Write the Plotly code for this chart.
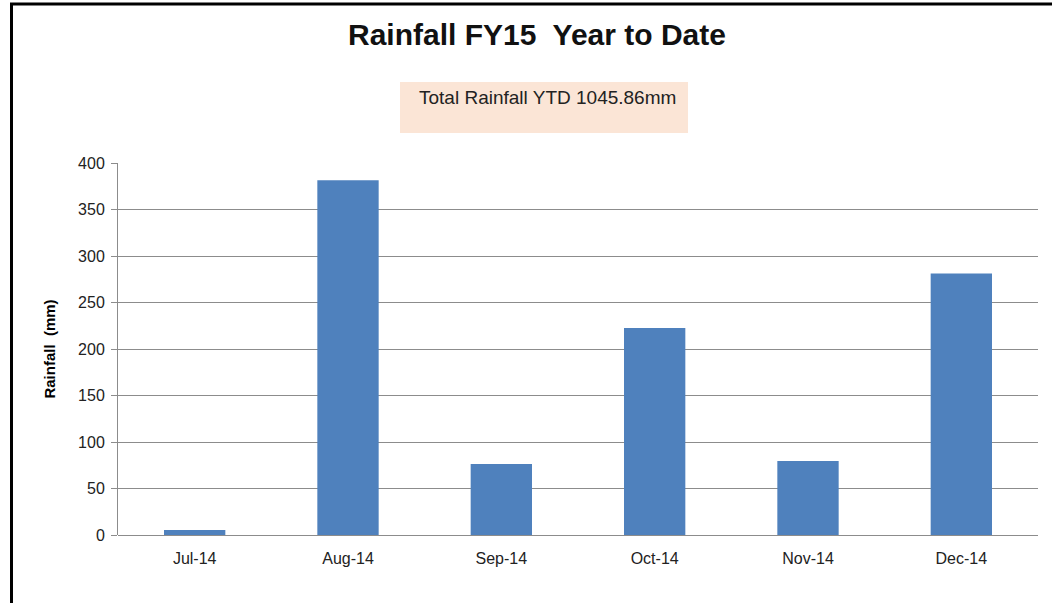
import plotly.graph_objects as go

months = ["Jul-14", "Aug-14", "Sep-14", "Oct-14", "Nov-14", "Dec-14"]
rainfall = [5.4, 381.4, 76.3, 222.7, 79.5, 281.1]
y_ticks = [0, 50, 100, 150, 200, 250, 300, 350, 400]
title_text = "Rainfall FY15  Year to Date"
total_text = "Total Rainfall YTD 1045.86mm"
y_title = "Rainfall  (mm)"

W, H = 1052, 603
L, R, T, B = 118, 14, 163, 68
pw, ph = W - L - R, H - T - B

def px(x):
    return (x - L) / pw

def py(y):
    return (H - B - y) / ph

font = "Liberation Sans"

fig = go.Figure(go.Bar(
    x=months, y=rainfall,
    marker=dict(color="#4F81BD", line=dict(width=0)),
    width=0.4,
))

fig.update_layout(
    width=W, height=H,
    margin=dict(l=L, r=R, t=T, b=B),
    paper_bgcolor="white", plot_bgcolor="white",
    showlegend=False,
    font=dict(family=font, color="#222222"),
    xaxis=dict(
        showgrid=False, showline=False, zeroline=False,
        tickfont=dict(size=16, family=font, color="#222222"),
        ticks="", ticklen=0, ticklabelstandoff=12,
    ),
    yaxis=dict(
        range=[0, 400], tickvals=y_ticks,
        showgrid=True, gridcolor="#8c8c8c", gridwidth=1,
        showline=True, linecolor="#8c8c8c", linewidth=1,
        zeroline=True, zerolinecolor="#8c8c8c", zerolinewidth=1,
        ticks="outside", ticklen=6, tickcolor="#8c8c8c",
        ticklabelstandoff=3,
        tickfont=dict(size=16, family=font, color="#222222"),
        title=dict(text="<b>" + y_title + "</b>", font=dict(size=15, family=font, color="#000000"), standoff=18),
    ),
    annotations=[
        dict(text="<b>" + title_text + "</b>", x=px(537), y=py(34), xref="paper", yref="paper",
             showarrow=False, font=dict(size=30, family=font, color="#111111"),
             xanchor="center", yanchor="middle"),
        dict(text=total_text, x=px(547), y=py(98), xref="paper", yref="paper",
             showarrow=False, font=dict(size=19, family=font, color="#222222"),
             xanchor="center", yanchor="middle"),
    ],
    shapes=[
        dict(type="rect", xref="paper", yref="paper", x0=px(400), x1=px(688), y0=py(133), y1=py(82),
             fillcolor="#FBE5D6", line=dict(width=0), layer="below"),
        dict(type="line", xref="paper", yref="paper", x0=px(11.5), x1=px(11.5), y0=py(3), y1=py(603),
             line=dict(color="black", width=3)),
        dict(type="line", xref="paper", yref="paper", x0=px(10), x1=px(1052), y0=py(4), y1=py(4),
             line=dict(color="black", width=3)),
    ],
)

fig.write_html("out.html", config={"displayModeBar": False},
               post_script="document.body.style.margin='0';document.body.style.overflow='hidden';")
